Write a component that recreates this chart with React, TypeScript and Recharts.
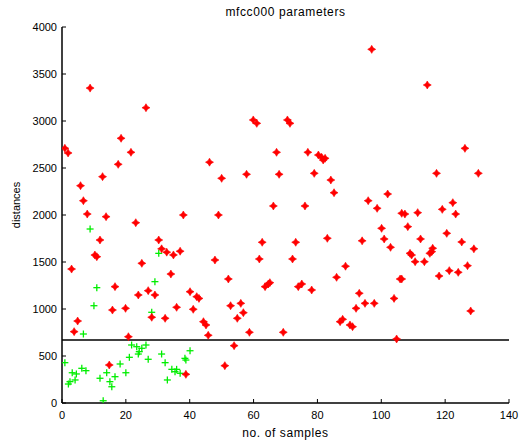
import React from "react";
import { ScatterChart, Scatter, XAxis, YAxis, ReferenceLine } from "recharts";

const xTicks = [0, 20, 40, 60, 80, 100, 120, 140];
const yTicks = [0, 500, 1000, 1500, 2000, 2500, 3000, 3500, 4000];
const thresholdValue = 670;
const titleText = "mfcc000 parameters";
const xLabelText = "no. of samples";
const yLabelText = "distances";

const redX = [
  8.8, 26.3, 18.5, 0.9, 1.9, 21.6, 46.2, 17.6, 12.7, 5.8, 6.7, 7.9, 13.8, 23.1, 38, 11.9, 30.3,
  31.2, 32.8, 34.9, 37, 10.3, 10.9, 3, 25, 34.1, 16.6, 27, 29.1, 23.9, 40.1, 42.2, 42.9, 15.8, 19.9,
  28.1, 32.3, 35.9, 41.1, 4.9, 44.3, 45.1, 3.8, 45.8, 20.8, 14.8, 38.8,
  59.9, 61, 70.6, 71.4, 67.2, 77, 80.3, 81.3, 81.8, 82.4, 50, 57.8, 68, 79, 84.2, 85.2, 66.2, 76.1,
  49, 62.7, 73.2, 83.1, 47.9, 61.8, 72.2, 88.8, 52.1, 86, 63.6, 64.6, 65.1, 74, 75.1, 78.2, 52.8, 56,
  56.8, 54.9, 58.7, 69.3, 87.1, 87.9, 53.9, 51,
  97, 114.4, 126.2, 117.3, 130.4, 95.9, 102, 98.7, 122.4, 106.4, 107.4, 111.4, 119.1, 123.3, 100.1,
  108.3, 120.5, 94, 100.9, 112.3, 125.2, 102.9, 116.1, 129, 109, 109.5, 115.2, 115.8, 110.6, 113.5,
  127, 118.1, 121.3, 124.1, 105.9, 106.4, 93.1, 104, 94.9, 97.8, 92.1, 128, 90.2, 91, 104.8,
];
const redY = [
  3350, 3141, 2816, 2710, 2660, 2667, 2562, 2539, 2408, 2312, 2152, 2010, 1982, 1918, 2000, 1734, 1734,
  1640, 1605, 1575, 1615, 1574, 1556, 1425, 1486, 1372, 1238, 1195, 1149, 1149, 1184, 1131, 1113, 989, 1007,
  912, 901, 1018, 997, 872, 865, 830, 759, 720, 705, 404, 305,
  3011, 2975, 3011, 2975, 2667, 2667, 2638, 2614, 2585, 2603, 2390, 2433, 2433, 2443, 2372, 2237, 2096, 2096,
  2000, 1710, 1710, 1752, 1521, 1532, 1532, 1455, 1319, 1337, 1238, 1266, 1280, 1238, 1266, 1202, 1035, 1060,
  961, 901, 752, 752, 865, 890, 610, 397,
  3762, 3383, 2709, 2443, 2443, 2152, 2223, 2071, 2131, 2018, 2010, 2025, 2060, 2010, 1858,
  1876, 1805, 1725, 1745, 1745, 1713, 1656, 1646, 1640, 1592, 1574, 1592, 1610, 1503, 1503,
  1461, 1351, 1408, 1390, 1319, 1319, 1167, 1113, 1060, 1060, 1007, 979, 830, 812, 681,
];

const greenX = [
  8.8, 30.3, 29.1, 10.9, 10, 28.1, 6.7, 21.8, 23.4, 25, 26.3, 24.2, 23.9, 27, 21.1, 31.2, 40.1, 38.5,
  38.8, 32.3, 18.2, 0.9, 34.4, 35.9, 35.4, 6.2, 7.5, 3.2, 4.5, 14, 16.6, 20, 37, 11.9, 15, 15.6, 33,
  2.5, 2, 4.1, 12.9,
];
const greenY = [
  1851, 1592, 1291, 1227, 1035, 965, 734, 617, 599, 582, 617, 546, 521, 465, 486, 521, 556, 475,
  457, 429, 415, 429, 358, 358, 333, 369, 344, 322, 309, 322, 280, 322, 316, 263, 227, 173, 245,
  227, 202, 245, 24,
];

const redData = redX.map((x, i) => ({ x, y: redY[i] }));
const greenData = greenX.map((x, i) => ({ x, y: greenY[i] }));

const FONT = "'Liberation Sans', Arial, sans-serif";

const RedStar = (props: any) => {
  const { cx, cy } = props;
  if (cx == null || cy == null) return null;
  const a = 4;
  const b = 1.5;
  const d = `M${cx},${cy - a} L${cx + b},${cy - b} L${cx + a},${cy} L${cx + b},${cy + b} L${cx},${cy + a} L${cx - b},${cy + b} L${cx - a},${cy} L${cx - b},${cy - b} Z`;
  return <path d={d} fill="#ff0000" stroke="#ff0000" strokeWidth={0.6} />;
};

const GreenPlus = (props: any) => {
  const { cx, cy } = props;
  if (cx == null || cy == null) return null;
  const a = 3.5;
  return (
    <g stroke="#00ee00" strokeWidth={1.3}>
      <line x1={cx - a} y1={cy} x2={cx + a} y2={cy} />
      <line x1={cx} y1={cy - a} x2={cx} y2={cy + a} />
    </g>
  );
};

const BottomTick = (props: any) => {
  const { x, y, payload } = props;
  return (
    <g>
      <line x1={x} y1={y} x2={x} y2={y - 4} stroke="#000" strokeWidth={1} />
      <text x={x} y={y + 16} textAnchor="middle" fontSize={11} fontFamily={FONT} fill="#000">
        {payload.value}
      </text>
    </g>
  );
};

const TopTick = (props: any) => {
  const { x, y } = props;
  return <line x1={x} y1={y} x2={x} y2={y + 4} stroke="#000" strokeWidth={1} />;
};

const LeftTick = (props: any) => {
  const { x, y, payload } = props;
  return (
    <g>
      <line x1={x} y1={y} x2={x + 4} y2={y} stroke="#000" strokeWidth={1} />
      <text x={x - 5} y={y + 4} textAnchor="end" fontSize={11} fontFamily={FONT} fill="#000">
        {payload.value}
      </text>
    </g>
  );
};

const RightTick = (props: any) => {
  const { x, y } = props;
  return <line x1={x} y1={y} x2={x - 4} y2={y} stroke="#000" strokeWidth={1} />;
};

export default function App() {
  return (
    <div style={{ position: "absolute", left: 0, top: 0, width: 523, height: 445, background: "#fff" }}>
      <ScatterChart width={523} height={445} margin={{ top: 27, right: 14, bottom: 12, left: 0 }}>
        <XAxis
          xAxisId="b"
          type="number"
          dataKey="x"
          domain={[0, 140]}
          ticks={xTicks}
          height={30}
          tickSize={0}
          tickMargin={0}
          tickLine={false}
          axisLine={{ stroke: "#000", strokeWidth: 1.5 }}
          tick={<BottomTick />}
          allowDataOverflow
        />
        <XAxis
          xAxisId="t"
          orientation="top"
          type="number"
          dataKey="x"
          domain={[0, 140]}
          ticks={xTicks}
          height={0}
          tickSize={0}
          tickMargin={0}
          tickLine={false}
          axisLine={{ stroke: "#000", strokeWidth: 1.5 }}
          tick={<TopTick />}
          allowDataOverflow
        />
        <YAxis
          yAxisId="l"
          type="number"
          dataKey="y"
          domain={[0, 4000]}
          ticks={yTicks}
          width={62}
          tickSize={0}
          tickMargin={0}
          tickLine={false}
          axisLine={{ stroke: "#000", strokeWidth: 1.5 }}
          tick={<LeftTick />}
          allowDataOverflow
        />
        <YAxis
          yAxisId="r"
          orientation="right"
          type="number"
          dataKey="y"
          domain={[0, 4000]}
          ticks={yTicks}
          width={0}
          tickSize={0}
          tickMargin={0}
          tickLine={false}
          axisLine={{ stroke: "#000", strokeWidth: 1.5 }}
          tick={<RightTick />}
          allowDataOverflow
        />
        <ReferenceLine xAxisId="b" yAxisId="l" y={thresholdValue} stroke="#000" strokeWidth={1.5} />
        <Scatter xAxisId="b" yAxisId="l" data={greenData} shape={<GreenPlus />} isAnimationActive={false} />
        <Scatter xAxisId="b" yAxisId="l" data={redData} shape={<RedStar />} isAnimationActive={false} />
      </ScatterChart>
      <div
        style={{
          position: "absolute",
          left: 62,
          width: 447,
          top: 5,
          textAlign: "center",
          fontFamily: FONT,
          fontSize: 12,
          letterSpacing: 0.6,
          color: "#000",
          lineHeight: "14px",
        }}
      >
        {titleText}
      </div>
      <div
        style={{
          position: "absolute",
          left: 62,
          width: 447,
          top: 426,
          textAlign: "center",
          fontFamily: FONT,
          fontSize: 12,
          letterSpacing: 0.6,
          color: "#000",
          lineHeight: "14px",
        }}
      >
        {xLabelText}
      </div>
      <div
        style={{
          position: "absolute",
          left: 16,
          top: 205,
          transform: "translate(-50%, -50%) rotate(-90deg)",
          fontFamily: FONT,
          fontSize: 11,
          color: "#000",
          lineHeight: "14px",
          whiteSpace: "nowrap",
        }}
      >
        {yLabelText}
      </div>
    </div>
  );
}
